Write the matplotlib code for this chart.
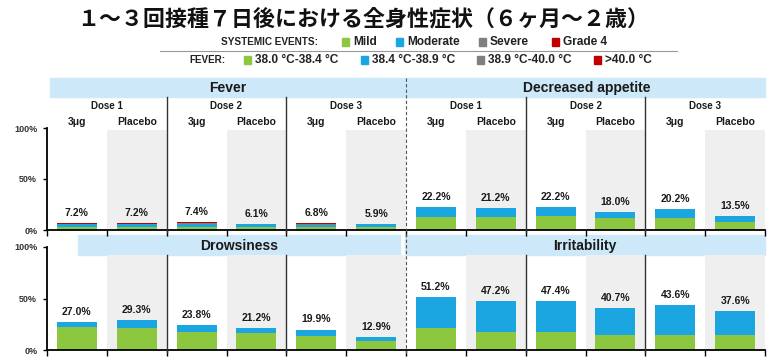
import matplotlib
matplotlib.use("Agg")
import matplotlib.pyplot as plt
from matplotlib.patches import Rectangle
from matplotlib.lines import Line2D
import numpy as np

W, H = 781, 364

# ---- data (percent of participants) ----
groups = ["Dose 1", "Dose 2", "Dose 3"]
arms = ["3μg", "Placebo"]

fever_mild = [3.0, 3.3, 3.2, 3.1, 3.0, 3.2]
fever_moderate = [2.8, 2.5, 2.8, 2.6, 2.2, 2.3]
fever_severe = [0.4, 0.4, 0.4, 0.4, 0.4, 0.4]
fever_grade4 = [1.0, 1.0, 1.0, 0.0, 1.2, 0.0]
fever_total = [7.2, 7.2, 7.4, 6.1, 6.8, 5.9]

appetite_mild = [13.0, 13.0, 14.0, 11.5, 12.0, 8.0]
appetite_total = [22.2, 21.2, 22.2, 18.0, 20.2, 13.5]

drowsy_mild = [22.0, 21.7, 17.8, 16.2, 13.6, 9.0]
drowsy_total = [27.0, 29.3, 23.8, 21.2, 19.9, 12.9]

irrit_mild = [21.0, 17.8, 17.8, 14.6, 14.6, 14.6]
irrit_total = [51.2, 47.2, 47.4, 40.7, 43.6, 37.6]

C_MILD = "#8DC63F"
C_MOD = "#1BA6E2"
C_SEV = "#7F7F7F"
C_G4 = "#C00000"
C_HEAD = "#CDE8F8"
C_BG = "#EFEFEF"

FONT = "Liberation Sans"


def fx(px):
    return px / W


def fy(py):
    return 1 - py / H


fig = plt.figure(figsize=(W / 100, H / 100), dpi=100)
fig.patch.set_facecolor("white")

# title
fig.text(fx(363), fy(19), "１～３回接種７日後における全身性症状（６ヶ月～２歳）",
         ha="center", va="center", fontsize=15.8, fontweight="bold",
         family=["Noto Sans CJK JP", "DejaVu Sans"], color="#111111")

# legend
fig.text(fx(318), fy(42), "SYSTEMIC EVENTS:", ha="right", va="center",
         fontsize=7.2, fontweight="bold", family=FONT, color="#222222")
leg1 = [(353, "Mild", C_MILD), (407, "Moderate", C_MOD),
        (490, "Severe", C_SEV), (563, "Grade 4", C_G4)]
for tx, lab, col in leg1:
    fig.add_artist(Rectangle((fx(tx - 11), fy(45.5)), fx(7), 7 / H, color=col,
                             transform=fig.transFigure))
    fig.text(fx(tx), fy(42), lab, ha="left", va="center",
             fontsize=8.6, fontweight="bold", family=FONT, color="#222222")
fig.add_artist(Line2D([fx(160), fx(677)], [fy(51), fy(51)], color="#999999",
                      lw=0.8, transform=fig.transFigure))
fig.text(fx(225), fy(60), "FEVER:", ha="right", va="center",
         fontsize=7.1, fontweight="bold", family=FONT, color="#222222")
leg2 = [(255, "38.0 °C-38.4 °C", C_MILD), (372, "38.4 °C-38.9 °C", C_MOD),
        (488, "38.9 °C-40.0 °C", C_SEV), (605, ">40.0 °C", C_G4)]
for tx, lab, col in leg2:
    fig.add_artist(Rectangle((fx(tx - 11), fy(63.5)), fx(7), 7 / H, color=col,
                             transform=fig.transFigure))
    fig.text(fx(tx), fy(60), lab, ha="left", va="center",
             fontsize=8.6, fontweight="bold", family=FONT, color="#222222")


def header(x0, x1, y0, y1, text):
    fig.add_artist(Rectangle((fx(x0), fy(y1)), fx(x1 - x0), (y1 - y0) / H,
                             color=C_HEAD, transform=fig.transFigure, zorder=0))
    if text:
        fig.text(fx((x0 + x1) / 2), fy((y0 + y1) / 2 + 1), text, ha="center",
                 va="center", fontsize=10, fontweight="bold", family=FONT,
                 color="#1a1a1a")


def make_axes(y0, y100, bg_top):
    ax = fig.add_axes([fx(47), fy(y0), fx(765) - fx(47), (y0 - y100) / H])
    ax.set_xlim(0, 12)
    ax.set_ylim(0, 100)
    ax.patch.set_alpha(0)
    for i in range(1, 12, 2):
        ax.axvspan(i, i + 1, ymin=0, ymax=bg_top, color=C_BG, zorder=0, lw=0)
    for s in ["top", "right"]:
        ax.spines[s].set_visible(False)
    ax.spines["left"].set_linewidth(1.3)
    ax.spines["bottom"].set_linewidth(1.3)
    ax.set_xticks(range(13))
    ax.set_xticklabels([])
    ax.tick_params(axis="x", length=4, width=1, direction="out")
    ax.set_yticks([0, 50, 100])
    ax.set_yticklabels(["0%", "50%", "100%"], fontsize=6.5, fontweight="bold",
                       family=FONT, color="#333333")
    ax.tick_params(axis="y", length=3, width=1, pad=4)
    return ax


def label_bars(ax, xs, totals):
    for x, t in zip(xs, totals):
        ax.text(x, t + 5, f"{t:.1f}%", ha="center", va="bottom", fontsize=7.5,
                fontweight="bold", family=FONT, color="#1a1a1a")


bw = 0.67
xl = np.arange(6) + 0.5
xr = np.arange(6, 12) + 0.5

# ---- top row ----
header(50, 765, 78, 97, "")
fig.text(fx(228), fy(88), "Fever", ha="center", va="center", fontsize=10,
         fontweight="bold", family=FONT, color="#1a1a1a")
fig.text(fx(587), fy(88), "Decreased appetite", ha="center", va="center",
         fontsize=10, fontweight="bold", family=FONT, color="#1a1a1a")
ax1 = make_axes(230, 128, 0.98)

b = np.zeros(6)
for vals, col in [(fever_mild, C_MILD), (fever_moderate, C_MOD),
                  (fever_severe, C_SEV), (fever_grade4, C_G4)]:
    ax1.bar(xl, vals, bw, bottom=b, color=col, zorder=2)
    b = b + np.array(vals)
label_bars(ax1, xl, fever_total)

app_mod = np.array(appetite_total) - np.array(appetite_mild)
ax1.bar(xr, appetite_mild, bw, color=C_MILD, zorder=2)
ax1.bar(xr, app_mod, bw, bottom=appetite_mild, color=C_MOD, zorder=2)
label_bars(ax1, xr, appetite_total)

colw = (765 - 47) / 12
for g in range(6):
    cx = 47 + colw * (2 * g + 1)
    fig.text(fx(cx), fy(106), groups[g % 3], ha="center", va="center",
             fontsize=7, fontweight="bold", family=FONT, color="#1a1a1a")
for c in range(12):
    cx = 47 + colw * (c + 0.5)
    fig.text(fx(cx), fy(122), arms[c % 2], ha="center", va="center",
             fontsize=7.5, fontweight="bold", family=FONT, color="#1a1a1a")

# ---- bottom row ----
header(78, 400, 235, 255, "Drowsiness")
header(405, 765, 235, 255, "Irritability")
ax2 = make_axes(350, 247, 0.92)

dr_mod = np.array(drowsy_total) - np.array(drowsy_mild)
ax2.bar(xl, drowsy_mild, bw, color=C_MILD, zorder=2)
ax2.bar(xl, dr_mod, bw, bottom=drowsy_mild, color=C_MOD, zorder=2)
label_bars(ax2, xl, drowsy_total)

ir_mod = np.array(irrit_total) - np.array(irrit_mild)
ax2.bar(xr, irrit_mild, bw, color=C_MILD, zorder=2)
ax2.bar(xr, ir_mod, bw, bottom=irrit_mild, color=C_MOD, zorder=2)
label_bars(ax2, xr, irrit_total)

# separators
for k in [2, 4, 8, 10]:
    x = fx(47 + colw * k)
    for y0, y1 in [(97, 232), (255, 352)]:
        fig.add_artist(Line2D([x, x], [fy(y0), fy(y1)], color="#333333",
                              lw=1.0, transform=fig.transFigure))
xd = fx(47 + colw * 6)
fig.add_artist(Line2D([xd, xd], [fy(78), fy(356)], color="#555555", lw=0.8,
                      ls=(0, (3, 2)), transform=fig.transFigure))

fig.savefig("out.png", dpi=100)
